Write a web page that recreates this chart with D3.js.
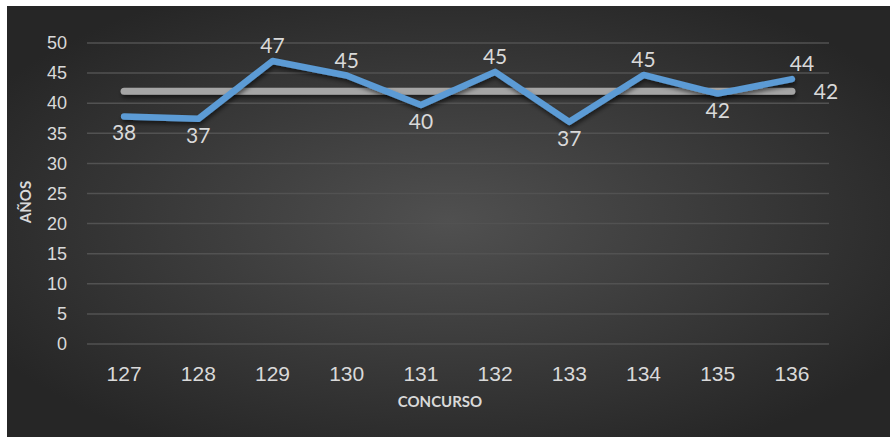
<!DOCTYPE html>
<html>
<head>
<meta charset="utf-8">
<script src="https://cdn.jsdelivr.net/npm/d3@7"></script>
<style>
  html, body { margin:0; padding:0; background:#fff; }
  svg { display:block; font-family: Lato, "Open Sans", sans-serif; }
</style>
</head>
<body>
<div id="canvas"></div>
<script>
// data
var concursos = ['127','128','129','130','131','132','133','134','135','136'];
var edades = [37.8, 37.4, 47.0, 44.6, 39.7, 45.2, 36.9, 44.7, 41.6, 44.0];
var promedio = 42;
var yTicks = [0,5,10,15,20,25,30,35,40,45,50];

var W = 890, H = 437;
var m = {t:43, r:61, b:93, l:87};
var w = W - m.l - m.r, h = H - m.t - m.b;

var svg = d3.select('#canvas').append('svg')
    .attr('width', W).attr('height', H);

var defs = svg.append('defs');
var grad = defs.append('radialGradient').attr('id','bg')
    .attr('cx','50%').attr('cy','50%').attr('r','60%');
grad.append('stop').attr('offset','0%').attr('stop-color','#505050');
grad.append('stop').attr('offset','100%').attr('stop-color','#262626');

// drop shadow in user space so the flat average line still gets it
var shadow = defs.append('filter').attr('id','shadow')
    .attr('filterUnits','userSpaceOnUse')
    .attr('x',-20).attr('y',-20).attr('width',W).attr('height',H);
shadow.append('feDropShadow').attr('dx',1).attr('dy',3).attr('stdDeviation',2)
    .attr('flood-color','#000').attr('flood-opacity',0.55);

// background panel
svg.append('rect').attr('x',7).attr('y',6).attr('width',W-7).attr('height',H-6)
    .attr('fill','url(#bg)');

var plot = svg.append('g').attr('transform','translate('+m.l+','+m.t+')');

var x = d3.scaleBand().domain(concursos).range([0,w]);
var y = d3.scaleLinear().domain([0,50]).range([h,0]);

// gridlines
plot.selectAll('.grid').data(yTicks).enter().append('line')
    .attr('x1',0).attr('x2',w)
    .attr('y1',function(d){ return y(d); }).attr('y2',function(d){ return y(d); })
    .attr('stroke','#525252').attr('stroke-width',1.5);

// y axis
var yAxis = plot.append('g').call(d3.axisLeft(y).tickValues(yTicks).tickSize(0).tickPadding(20));
yAxis.select('.domain').remove();
yAxis.selectAll('text').attr('fill','#d9d9d9').style('font-size','18px');

// x axis
var xAxis = plot.append('g').attr('transform','translate(0,'+h+')')
    .call(d3.axisBottom(x).tickSize(0).tickPadding(22));
xAxis.select('.domain').remove();
xAxis.selectAll('text').attr('fill','#d9d9d9').style('font-size','21px');

// axis titles
svg.append('text').attr('x', 440).attr('y', 407)
    .attr('text-anchor','middle').attr('fill','#d9d9d9')
    .style('font-size','15px').style('font-weight','bold').text('CONCURSO');
svg.append('text').attr('transform','translate(31,202) rotate(-90)')
    .attr('text-anchor','middle').attr('fill','#d9d9d9')
    .style('font-size','15px').style('font-weight','bold').text('AÑOS');

var cx = function(d,i){ return x(concursos[i]) + x.bandwidth()/2; };

// average line
var avgLine = d3.line()
    .x(function(d,i){ return cx(d,i); })
    .y(function(){ return y(promedio); });
plot.append('path').datum(edades).attr('d', avgLine)
    .attr('fill','none').attr('stroke','#a5a5a5').attr('stroke-width',7)
    .attr('stroke-linecap','round').attr('filter','url(#shadow)');

// values line
var line = d3.line()
    .x(function(d,i){ return cx(d,i); })
    .y(function(d){ return y(d); });
plot.append('path').datum(edades).attr('d', line)
    .attr('fill','none').attr('stroke','#5b9bd5').attr('stroke-width',6.5)
    .attr('stroke-linecap','round').attr('stroke-linejoin','round')
    .attr('filter','url(#shadow)');

// data labels: above when over the average, below otherwise
plot.selectAll('.lbl').data(edades).enter().append('text')
    .attr('x', function(d,i){ return cx(d,i) + (i === edades.length-1 ? 10 : 0); })
    .attr('y', function(d){ return d >= promedio ? y(d) - 8 : y(d) + 24; })
    .attr('text-anchor','middle').attr('fill','#d9d9d9')
    .style('font-size','21px')
    .text(function(d){ return Math.round(d); });

// average label at the end
plot.append('text')
    .attr('x', cx(null, edades.length-1) + 34)
    .attr('y', y(promedio) + 8)
    .attr('text-anchor','middle').attr('fill','#d9d9d9')
    .style('font-size','21px')
    .text(promedio);
</script>
</body>
</html>
